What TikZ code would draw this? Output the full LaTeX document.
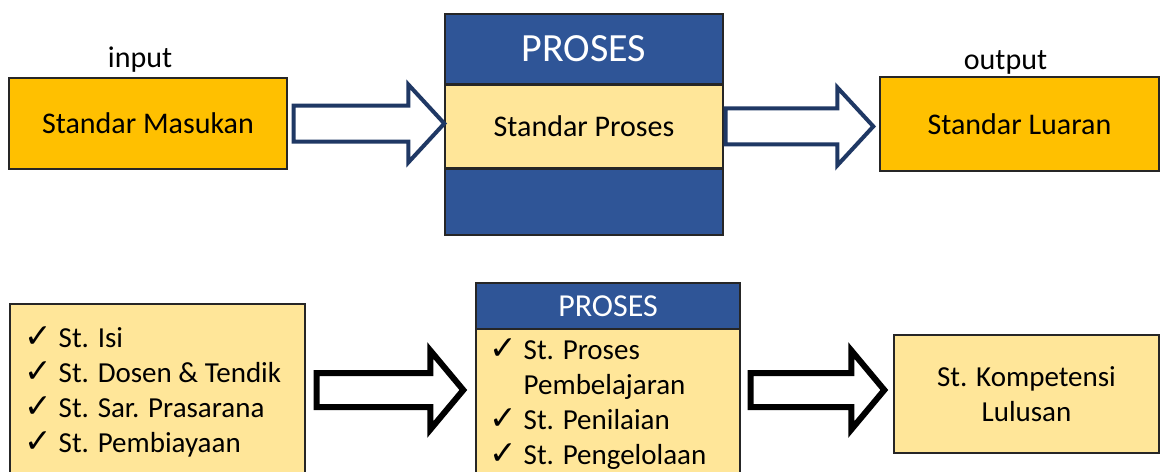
\documentclass[tikz,border=0pt]{standalone}
\usepackage{fontspec}
\setmainfont{Carlito}
\newfontfamily\symfont{DejaVu Sans}
\definecolor{gold}{HTML}{FFC000}
\definecolor{paleyellow}{HTML}{FFE699}
\definecolor{boxblue}{HTML}{2F5597}
\definecolor{navy}{HTML}{1F3864}
\definecolor{edge}{HTML}{262626}
\usetikzlibrary{positioning,calc}
\newcommand{\chk}{\makebox[17pt][l]{\symfont\fontsize{16.5}{16.5}\selectfont ✓}}
\tikzset{
	shaft half/.store in=\shafthalf,
	head half/.store in=\headhalf,
	head length/.store in=\headlen,
	box/.style={
		rectangle,
		draw=edge,
		line width=0.7pt,
		text centered,
		font=\fontsize{15}{17.5}\selectfont
	},
	header/.style={
		box,
		fill=boxblue,
		text=white
	},
	tag/.style={
		inner sep=0pt,
		font=\fontsize{15}{17.5}\selectfont
	},
	checklist/.style={
		inner sep=0pt,
		align=left,
		anchor=north west,
		font=\fontsize{14.5}{17.5}\selectfont
	},
	fatarrow/.style={
		fill=white,
		line join=miter,
		to path={
			let \p1=(\tikztostart), \p2=(\tikztotarget) in
			(\x1,\y1+\shafthalf) -- (\x2-\headlen,\y1+\shafthalf)
			-- (\x2-\headlen,\y1+\headhalf) -- (\x2,\y1)
			-- (\x2-\headlen,\y1-\headhalf) -- (\x2-\headlen,\y1-\shafthalf)
			-- (\x1,\y1-\shafthalf) -- cycle
		}
	},
	toparrow/.style={
		fatarrow,
		draw=navy,
		line width=2pt,
		shaft half=9pt,
		head half=19.5pt,
		head length=18pt
	},
	lowarrow/.style={
		fatarrow,
		draw=black,
		line width=3pt,
		shaft half=8.5pt,
		head half=19.75pt,
		head length=16.5pt
	},
}

\begin{document}
\begin{tikzpicture}[x=0.5pt,y=-0.5pt]
\clip (0,0) rectangle (1161,471);
\fill[white] (0,0) rectangle (1161,471);

% upper row
\node [box,fill=gold,minimum width=139pt,minimum height=45.5pt] (masukan) at (148,123.5) {Standar Masukan};
\node [tag] (input) [above=2.5pt of masukan,xshift=-4pt] {input};

\node [header,minimum width=139pt,minimum height=35pt,font=\fontsize{20}{24}\selectfont] (prosesA) at (584,49) {PROSES};
\node [box,fill=paleyellow,minimum width=139pt,minimum height=41pt] (standar) [below=0pt of prosesA] {Standar Proses};
\node [header,minimum width=139pt,minimum height=33pt] (prosesC) [below=0pt of standar] {};

\node [box,fill=gold,minimum width=139.5pt,minimum height=47pt] (luaran) at (1019.5,124) {Standar Luaran};
\node [tag] (output) [above=1pt of luaran,xshift=-7pt] {output};

\draw[toparrow] ([xshift=3pt]masukan.east) to (standar.west);
\draw[toparrow] ([xshift=1pt]standar.east) to ([xshift=-3pt]luaran.west);

% lower row
\node [box,fill=paleyellow,minimum width=147.5pt,minimum height=86pt] (inputbox) at (157.5,390) {};
\node [checklist] (inputlist) at ([xshift=7.5pt,yshift=-11.5pt]inputbox.north west)
	{\chk St. Isi\\ \chk St. Dosen \& Tendik\\ \chk St. Sar. Prasarana\\ \chk St. Pembiayaan};

\node [box,fill=paleyellow,minimum width=132pt,minimum height=107pt] (prosesbox) at (608,390) {};
\node [header,anchor=north,minimum width=132pt,minimum height=23pt,font=\fontsize{16}{19}\selectfont] (proseshead) at (prosesbox.north) {PROSES};
\node [checklist] (proseslist) at ([xshift=7pt,yshift=-4.5pt]proseshead.south west)
	{\chk St. Proses\\ \hspace*{17pt}Pembelajaran\\ \chk St. Penilaian\\ \chk St. Pengelolaan};

\node [box,fill=paleyellow,minimum width=132.5pt,minimum height=59pt,align=center,font=\fontsize{14.5}{17.5}\selectfont] (kompetensi) at (1026.5,394) {St. Kompetensi\\ Lulusan};

\draw[lowarrow] ([xshift=5.5pt]inputbox.east) to ([xshift=-6pt]prosesbox.west);
\draw[lowarrow] ([xshift=5pt]prosesbox.east) to ([xshift=-4.5pt]kompetensi.west);
\end{tikzpicture}
\end{document}
